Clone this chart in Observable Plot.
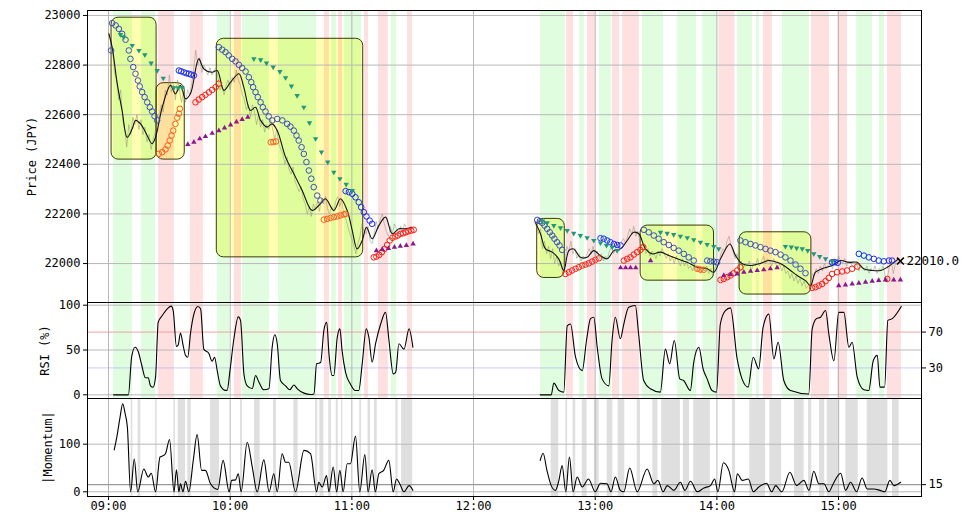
<!DOCTYPE html>
<html><head><meta charset="utf-8">
<script src="https://cdn.jsdelivr.net/npm/d3@7"></script>
<script src="https://cdn.jsdelivr.net/npm/@observablehq/plot@0.6"></script>
<style>
body{margin:0;background:#fff;}
#wrap{position:relative;width:969px;height:516px;background:#fff;}
#wrap svg{position:absolute;left:0;overflow:visible;}
</style></head><body><div id="wrap"></div>
<script>
// ---- times are minutes after 09:00 ----
const hourTicks = [0, 60, 120, 180, 240, 300, 360];
const priceTicks = [22000, 22200, 22400, 22600, 22800, 23000];
const rsiTicks = [0, 50, 100];
const rsiRightTicks = [30, 70];
const momTicks = [0, 100];
const momRightTicks = [15];
const lastPrice = [[390.5, 22010]];
const lastLabel = "22010.0";

const greenBands = [[2.5,11.8],[16.3,23.2],[53.7,59.7],[66.1,79.4],[83.8,102.6],[110,112.4],[116.4,124.8],[139.5,142],
  [213,225.3],[232.2,234.7],[242.1,248],[263.3,273.7],[280.6,290],[293,300.4],[310.2,317.6],[319.5,321],[332.3,345.6],[368.9,376.7],[380.2,382.6]];
const redBands = [[24.7,32.5],[40.4,46.8],[62.1,65.6],[106.5,109],[113.4,115.4],[126.2,128.2],[133.1,138],[147.4,149.9],
  [225.8,229.3],[236.2,240.1],[248.5,252],[253.4,261.8],[301,308.9],[323,327.4],[346.6,355.5],[359.5,364.4],[384.1,391]];
const grayBands = [[11.2,12],[14.6,15.9],[23.2,24],[32.2,33],[34.4,38],[39.1,40.8],[50.3,54.7],[65.1,66.1],[72,74.8],[81.4,82.8],[91.4,93.5],[102.1,103.2],[104.2,106.2],[108.6,110],[112.3,113.3],[114.9,115.5],[123.9,124.8],[128,129.2],[131.2,132.5],[141.7,142.8],[144.5,150],
  [218.3,222],[225.5,226.4],[229.1,230.4],[233.6,236],[239.6,242],[245.9,248.7],[251.3,254.6],[260.7,262.3],[268.4,270.9],[272.8,282],[283.5,286.5],[288.6,296.8],[307.7,309.2],[316.2,324],[326.1,331.9],[338.3,343],[345.2,346.8],[350.6,353.2],[354.4,360.6],[363.6,369.7],[374.1,384.3],[386.6,389.9]];

// [t1, t2, low, high]
const patternBoxes = [[1.5,23.7,22419,22991],[23.7,37.6,22419,22727],[53.4,125.6,22025,22906],
  [211.4,225,21942,22180],[262.4,298.6,21931,22153],[311.2,346.6,21875,22126]];

const priceAM = [[0.2,22926],[1.8,22872],[4.3,22725],[6.7,22617],[9.2,22509],[11.7,22543],[13.3,22577],[15.8,22563],[18.2,22530],[21.5,22483],[23.2,22509],[26.5,22630],[30.6,22718],[33,22684],[35.5,22718],[38,22664],[40.4,22684],[44.5,22825],[47,22785],[51.1,22771],[53.6,22778],[56.9,22698],[60.2,22731],[64.3,22765],[66.7,22711],[70,22617],[72.5,22630],[75,22577],[78.2,22550],[80.7,22563],[83.2,22536],[87.3,22429],[91.4,22362],[95.5,22294],[100.4,22214],[103.7,22234],[107,22261],[111.1,22214],[114.4,22261],[117.7,22214],[120.2,22133],[122.6,22059],[125.1,22093],[127.2,22146],[130,22100],[133.3,22153],[136.6,22187],[139.9,22120],[143.2,22140],[146.4,22140],[149.7,22146]];
const pricePM = [[210.5,22166],[213,22120],[215.5,22059],[218.8,22046],[222,22019],[224.5,21972],[227,22052],[229.4,22059],[232.7,22025],[236,22025],[239.3,22052],[242.6,22032],[245.9,22019],[249.2,22052],[252.5,22059],[255.8,22093],[259,22126],[261.5,22120],[264.8,22059],[268.1,22039],[272.2,22046],[276.3,22032],[280.4,22019],[285.4,22005],[290.3,21985],[295.2,21979],[298.5,21965],[301.8,22019],[306.4,22079],[309.2,22032],[312.5,21999],[316.6,21992],[320.7,21999],[325.6,22012],[329.7,22005],[333,21992],[336.3,21972],[339.6,21952],[343.7,21931],[346.2,21911],[348.6,21965],[351.9,21979],[356.9,21992],[361,22012],[365,22005],[369.2,22005],[372.4,21979],[376.6,21972],[380.7,21972],[384,21985],[387.3,22005],[389.7,22019]];

const rawAM = [[0,22930],[1,22900],[2,22860],[3,22770],[4,22740],[5,22660],[6,22700],[7,22580],[8,22540],[9,22470],[10,22560],[11,22520],[12,22590],[13,22560],[14,22600],[15,22540],[16,22580],[17,22520],[18,22550],[19,22490],[20,22520],[21,22460],[22,22500],[23,22530],[24,22560],[25,22600],[26,22640],[27,22610],[28,22700],[29,22680],[30,22760],[31,22690],[32,22720],[33,22660],[34,22740],[35,22700],[36,22650],[37,22690],[38,22650],[39,22700],[40,22680],[41,22720],[42,22780],[43,22860],[44,22800],[45,22830],[46,22770],[47,22800],[48,22780],[49,22760],[50,22790],[51,22760],[52,22780],[53,22790],[54,22750],[55,22700],[56,22720],[57,22680],[58,22720],[59,22740],[60,22700],[61,22750],[62,22730],[63,22780],[64,22740],[65,22720],[66,22680],[67,22660],[68,22620],[69,22640],[70,22590],[71,22640],[72,22610],[73,22560],[74,22600],[75,22550],[76,22580],[77,22530],[78,22560],[79,22540],[80,22580],[81,22540],[82,22500],[83,22540],[84,22480],[85,22460],[86,22440],[87,22400],[88,22430],[89,22380],[90,22360],[91,22390],[92,22330],[93,22310],[94,22290],[95,22310],[96,22260],[97,22240],[98,22200],[99,22230],[100,22190],[101,22240],[102,22220],[103,22250],[104,22210],[105,22260],[106,22240],[107,22270],[108,22220],[109,22200],[110,22230],[111,22210],[112,22250],[113,22270],[114,22230],[115,22260],[116,22200],[117,22180],[118,22150],[119,22120],[120,22100],[121,22070],[122,22040],[123,22080],[124,22110],[125,22160],[126,22130],[127,22120],[128,22150],[129,22090],[130,22080],[131,22120],[132,22170],[133,22140],[134,22180],[135,22200],[136,22160],[137,22130],[138,22110],[139,22150],[140,22120],[141,22160],[142,22140],[143,22120],[144,22150],[145,22130],[146,22160],[147,22140],[148,22130],[149,22150],[150,22140]];
const rawPM = [[210,22170],[211,22150],[212,22120],[213,22140],[214,22060],[215,22090],[216,22040],[217,22070],[218,22020],[219,22060],[220,22000],[221,22030],[222,21990],[223,22010],[224,21960],[225,21990],[226,22070],[227,22050],[228,22090],[229,22040],[230,22060],[231,22020],[232,22040],[233,22010],[234,22030],[235,22020],[236,22040],[237,22060],[238,22040],[239,22070],[240,22030],[241,22050],[242,22020],[243,22040],[244,22010],[245,22030],[246,22020],[247,22050],[248,22070],[249,22040],[250,22060],[251,22080],[252,22050],[253,22090],[254,22100],[255,22080],[256,22110],[257,22140],[258,22120],[259,22150],[260,22110],[261,22130],[262,22090],[263,22070],[264,22080],[265,22040],[266,22060],[267,22030],[268,22050],[269,22040],[270,22020],[271,22050],[272,22030],[273,22060],[274,22040],[275,22020],[276,22040],[277,22010],[278,22030],[279,22000],[280,22030],[281,22010],[282,21990],[283,22020],[284,21990],[285,22010],[286,21980],[287,21990],[288,21970],[289,22000],[290,21970],[291,21990],[292,21960],[293,21980],[294,21970],[295,21990],[296,21960],[297,21980],[298,21950],[299,21980],[300,22010],[301,22000],[302,22040],[303,22060],[304,22050],[305,22090],[306,22110],[307,22070],[308,22050],[309,22020],[310,22040],[311,21990],[312,22010],[313,21980],[314,22000],[315,21990],[316,22010],[317,21970],[318,22000],[319,21990],[320,22020],[321,21990],[322,22010],[323,22030],[324,22000],[325,22020],[326,22010],[327,21990],[328,22020],[329,22000],[330,21980],[331,22000],[332,21970],[333,21990],[334,21960],[335,21970],[336,21940],[337,21960],[338,21930],[339,21950],[340,21920],[341,21940],[342,21910],[343,21930],[344,21900],[345,21910],[346,21920],[347,21960],[348,21950],[349,21980],[350,21960],[351,21990],[352,21970],[353,22000],[354,21980],[355,21990],[356,22000],[357,21980],[358,22020],[359,22000],[360,22030],[361,22010],[362,22000],[363,22020],[364,21990],[365,22010],[366,22000],[367,21990],[368,21980],[369,22000],[370,21970],[371,21990],[372,21980],[373,21970],[374,21990],[375,21960],[376,21980],[377,21970],[378,21990],[379,21960],[380,21980],[381,21970],[382,21990],[383,21950],[384,21930],[385,21990],[386,22010],[387,21960],[388,22000],[389,22020],[390,22010]];

// stop-and-reverse style circles: above price (short) and below price (long)
const sarShort1 = [[1.3,22859]];
const sarShort2 = [[1.8,22969],[3.5,22960],[5.1,22946],[6.7,22926],[8.4,22902],[10,22859],[10.8,22825],[12.2,22792],[13.3,22765],[14.5,22738],[15.4,22714],[16.6,22691],[17.8,22671],[19.1,22650],[20.4,22630],[21.5,22613],[22.7,22594],[24,22577]];
const sarShort3 = [[34.7,22778],[35.8,22775],[37.1,22771],[38.4,22767],[39.6,22765],[40.7,22762],[42.1,22758]];
const sarShort4 = [[54.4,22872],[56.1,22862],[57.7,22852],[59.3,22839],[61,22825],[62.6,22815],[64.3,22801],[65.9,22788],[67.6,22774],[69.2,22751],[70.4,22731],[71.3,22711],[72.5,22691],[73.6,22671],[75,22650],[76.1,22630],[77.4,22613],[79,22593],[80.7,22577]];
const sarShort5 = [[83.2,22583],[85.7,22577],[88.1,22563],[89.7,22552],[91.4,22536],[92.7,22516],[93.8,22496],[95.2,22469],[96.3,22442],[97.6,22409],[98.8,22375],[100,22342],[101.2,22308],[102.9,22274],[104.5,22254]];
const sarShort6 = [[116.9,22292],[118.5,22288],[120.2,22281],[121.8,22267],[123.4,22247],[124.6,22227],[125.9,22207],[127.2,22190],[128.8,22173],[130,22160]];
const sarShort7 = [[211.4,22176],[212.7,22171],[213.9,22164],[215,22153],[216.3,22140],[217.6,22126],[218.8,22113],[219.9,22100],[221.2,22086],[222.4,22073],[223.7,22055]];
const sarShort8 = [[242.6,22102],[244.2,22100],[245.9,22093],[247.5,22086],[249.2,22079],[250.8,22075],[252.5,22073]];
const sarShort9 = [[264,22136],[266.4,22126],[268.9,22113],[271.3,22100],[273.8,22086],[276.3,22075],[278.7,22063],[281.2,22052],[283.7,22039],[286.1,22025],[288.6,22012]];
const sarShort10 = [[295.2,22012],[296.8,22009],[298.5,22008],[300.1,22005]];
const sarShort11 = [[311.6,22093],[314.1,22086],[316.6,22079],[319,22073],[321.5,22066],[324,22059],[326.4,22052],[328.9,22046],[331.4,22036],[333.8,22025],[336.3,22012],[338.8,21996],[341.2,21979],[343.7,21961]];
const sarShort12 = [[356.8,22005],[358.2,22005],[359.6,22003]];
const sarShort13 = [[370,22039],[372.5,22032],[374.9,22025],[377.4,22019],[379.8,22012],[382.3,22009],[384.8,22012],[386.4,22012]];

const sarLong1 = [[24.8,22442],[26.5,22449],[28.1,22460],[29.2,22476],[30.2,22496],[31.1,22516],[31.9,22536],[33,22563],[33.9,22588],[34.7,22604],[35.2,22624]];
const sarLong2 = [[42.9,22650],[44.5,22661],[46.2,22671],[47.8,22680],[49.5,22690],[51.1,22700],[52.8,22711],[54.4,22725]];
const sarLong3 = [[80,22489],[81.3,22490],[82.6,22492]];
const sarLong4 = [[106.2,22177],[107.8,22180],[109.5,22184],[111.1,22187],[112.8,22190],[114.4,22194],[116,22198],[116.9,22200]];
const sarLong5 = [[130.8,22025],[132.1,22028],[133.5,22035],[134.8,22046],[136.1,22059],[137.4,22075],[138.7,22093],[140,22104],[141.4,22109],[142.7,22113],[144,22120],[145.3,22122],[146.6,22126],[147.9,22130],[149.3,22133],[150.5,22136]];
const sarLong6 = [[225.3,21958],[227,21965],[228.6,21972],[230.3,21979],[231.9,21985],[233.6,21992],[235.2,21996],[236.8,22001],[238.5,22008],[240.1,22015],[241.8,22021]];
const sarLong7 = [[254.1,22012],[255.8,22019],[257.4,22025],[259,22036],[260.7,22046],[262.3,22055],[263.7,22066]];
const sarLong8 = [[290.3,21979],[291.9,21976],[293.5,21975]];
const sarLong9 = [[301.8,21934],[303.4,21938],[305.1,21945],[306.7,21952],[308.3,21961],[310,21972],[311.6,21985]];
const sarLong10 = [[347,21902],[348.6,21905],[350.3,21911],[351.9,21918],[353.6,21929],[355.2,21942],[356.8,21958]];
const sarLong11 = [[359.3,21965],[361.8,21968],[364.2,21972],[366.7,21979],[369.2,21988]];
const sarLong12 = [[384,21938]];

const trendDown = [[5.9,22923],[7.5,22913],[11.7,22879],[15,22859],[17.9,22841],[21,22808],[24,22778],[27,22747],[32.2,22708],[34.4,22708],[36.3,22708],
  [71.7,22825],[75,22821],[77.9,22808],[81.2,22792],[84.5,22774],[87.3,22749],[90.2,22715],[93,22677],[96.3,22630],[99.1,22567],[102.1,22503],[105,22449],[108.1,22409],[111.1,22368],[114.1,22342],[117.2,22319],[120.2,22294],
  [213.9,22171],[216.3,22164],[219.6,22153],[222.9,22144],[226.2,22133],[229.4,22122],[232.7,22113],[236,22104],[239.3,22093],[242.6,22083],[245.6,22073],[248.4,22066],[250.8,22052],
  [272.2,22126],[275.5,22122],[278.7,22117],[282,22110],[285.4,22104],[288.6,22096],[291.9,22086],[295.2,22077],[298.5,22069],[300.9,22059],
  [333.8,22069],[336.7,22066],[339.3,22062],[342.1,22059],[344.8,22052],[347.8,22039],[350.7,22028],[353.6,22019],[356.8,22009]];
const trendUp = [[39.1,22480],[42.1,22489],[45,22503],[47.8,22512],[51.1,22525],[54.4,22536],[57.2,22547],[60.2,22559],[63.1,22571],[65.9,22581],[68.7,22590],
  [132.1,22052],[135,22057],[138,22061],[141,22066],[143.9,22070],[146.9,22073],[150.2,22079],
  [252.5,21983],[255,21983],[257.4,21983],[260,21983],[267.3,22012],
  [303.4,21952],[306.7,21956],[310,21958],[313.3,21965],[316.6,21969],[319.9,21972],[323.1,21975],[326.4,21979],[329.7,21983],
  [360.1,21911],[363.4,21914],[366.7,21918],[370,21921],[373.3,21925],[376.6,21929],[379.8,21932],[383.1,21934],[387.2,21934],[390.5,21934]];

const rsiAM = [[2.5,0],[9.8,0],[11.4,42],[13.1,53],[14.7,48],[16.4,33],[18.2,19],[19.6,19],[20.7,10],[22,8.5],[23.2,20],[24.5,81],[26.5,88.5],[29,96],[30.9,99],[31.9,94],[33.5,54],[34.4,56],[35.5,69],[36.8,55],[38,44],[39.1,42],[40.4,68],[42.1,90],[44.1,98.5],[45.4,96],[47,51],[49.5,46],[51.1,37.5],[52.3,42],[53.6,27],[55.2,10],[57.7,5],[58.5,5],[59.9,27],[61.8,62],[64,87],[65.1,83],[66.8,23],[68.4,10],[70.9,7],[72.5,21.5],[74.2,14],[76.6,5.6],[79.1,6.7],[80.7,53],[82,67],[83.2,57],[84.8,16],[87.3,10],[89.4,5.6],[91.4,11],[93.1,6.7],[96.4,1.9],[99.7,0.4],[101.3,1],[102.6,34.6],[104.6,36],[106.2,72],[107.6,81],[108.7,46],[110.3,21.6],[111.1,21.6],[112.8,64],[114.1,73.6],[115.2,49],[116.9,25],[119.3,12],[121.8,4.8],[123.4,4.8],[125.1,34.6],[127.1,73.6],[128.4,64],[130,36.4],[131.7,57],[134.2,79],[136.6,92],[138.3,60.6],[140.4,23.4],[141.6,25],[143.2,57],[145.7,51],[148.2,73.6],[150.1,53]];
const rsiPM = [[212.9,0],[218.3,0],[219.6,13],[222.1,4.8],[224.5,3],[226.2,77],[227.8,79],[230.3,42],[233.6,27],[235.7,60.6],[237.7,85],[239.3,86.6],[241,53],[243.4,17.8],[246.7,10],[248.3,60.6],[249.9,86.6],[252.4,62.5],[254.1,79],[256.5,97.8],[259.8,99.6],[261.4,68],[263.9,16],[267.2,6.7],[272.1,3],[274.6,51],[276.7,34.6],[279,60.6],[281.7,17.8],[283.6,16],[286.9,4.8],[288.6,36.4],[291.1,53],[293.2,29],[295.2,17.8],[297.6,4.8],[299.8,3],[301.7,79],[304.2,94],[306.7,97],[310,40],[312.4,17.8],[315.4,8.6],[317.9,42],[320.6,29],[322.8,75.5],[325.6,90],[328.1,40],[330.2,58.7],[333,16],[336.3,4.8],[345.3,1],[347,73.6],[349.1,85],[351.1,86.6],[353.6,94],[355.2,68],[357.7,38],[360.1,92],[362.6,92],[365.1,53],[366.7,58.7],[369.2,19.7],[372.5,5.6],[374.9,4.8],[377.1,38],[379.1,44],[380.4,8.6],[382.7,8.6],[384.3,83],[386.5,85],[390.9,98.5]];

const momAM = [[2.8,88],[4.1,115],[5.7,157],[7,185],[8.2,164],[9.3,136],[10.9,0],[12.7,69],[14.4,0],[17.4,48],[19.6,31],[21.1,39],[23.2,0],[25.4,73],[26.5,75],[28.1,80],[30.1,110],[32.3,0],[33.5,46],[34.7,0],[35.5,17],[36.7,0],[38,22],[39.6,0],[41.8,66],[43.7,120],[45.9,45],[47.8,45],[50.3,17],[53.9,5],[56.5,66],[59.5,0],[60.7,24],[62.6,25],[64,38],[65.4,0],[68.4,104],[70.9,52],[73.3,0],[76.6,67],[79.2,0],[81.5,38],[83.2,0],[85.6,80],[87.3,62],[88.9,62],[92.2,0],[96.4,87],[99.6,80],[102.6,0],[103.7,20],[105.4,10],[107.5,34],[108.7,0],[110.8,52],[112.5,0],[114.1,45],[115.7,0],[117.7,59],[119.3,59],[121.8,117],[123.9,0],[126.4,78],[128,0],[130,46],[131.6,0],[133.3,38],[135.7,45],[138.2,66],[140.4,0],[142,27],[143.6,17],[145.7,0],[148.2,13],[150.1,3]];
const momPM = [[212.9,66],[214.3,81],[216.2,45],[218.3,13],[220.4,3],[222.1,24],[223.7,55],[225.5,0],[227.3,73],[229.1,0],[231.1,31],[233.6,10],[236.7,27],[240,0],[242.6,18],[245.8,17],[247.8,0],[249.9,31],[252.4,3],[254.1,0],[257,50],[260.7,0],[265.6,48],[268.9,17],[270.9,24],[273.5,0],[275.5,13],[278.8,3],[282,20],[284.2,3],[287,22],[290.3,0],[293.6,8],[296.9,13],[298.9,27],[300.5,0],[303.2,61],[305.9,45],[308.7,0],[310.1,38],[312.5,24],[315.5,27],[318,0],[320.7,10],[324.5,18],[327,0],[329,13],[332,0],[336,41],[339.3,13],[342.9,24],[345.4,3],[347.8,43],[350.3,17],[352.8,17],[355.2,0],[357.4,17],[361,39],[363.5,3],[365.9,20],[368.9,0],[371.6,29],[374.1,6],[377.4,6],[380.4,3],[382.8,0],[385.3,24],[387.3,13],[390.6,20]];

// ---------------- drawing ----------------
const W = 969, ML = 87, MR = 48;
const FONT = "DejaVu Sans Mono";
const xDomain = [-10.36, 400.9];
const fmtTime = t => { const m = 540 + t; return String(Math.floor(m / 60)).padStart(2, "0") + ":" + String(m % 60).padStart(2, "0"); };
const X = d => d[0], Y = d => d[1];
const GRID = "#b8b8b8";
const style = {fontFamily: FONT, fontSize: "12px", background: "transparent", color: "black", overflow: "visible"};
const sq3 = Math.sqrt(3);
const triDown = {draw(ctx, size) {
  const y = -Math.sqrt(size / (sq3 * 3));
  ctx.moveTo(0, -y * 2); ctx.lineTo(-sq3 * y, y); ctx.lineTo(sq3 * y, y); ctx.closePath();
}};
const bandMarks = () => [
  Plot.rect(greenBands, {x1: d => d[0], x2: d => d[1], fill: "#00ee00", fillOpacity: 0.12}),
  Plot.rect(redBands, {x1: d => d[0], x2: d => d[1], fill: "#ff0000", fillOpacity: 0.12})
];
const yLabel = (text, dx) => Plot.text([text], {frameAnchor: "left", dx, rotate: -90, textAnchor: "middle", lineAnchor: "middle", fontSize: 12, fontFamily: FONT, fill: "black"});

const circle = (data, color) => Plot.dot(data, {x: X, y: Y, r: 2.8, stroke: color, strokeWidth: 1, fill: "none"});
const BLUE = "#3a4cc0", BLUE2 = "#1a2cf0", RED = "#ff1a10", ORANGE = "#ff5a1a";

const p1 = Plot.plot({
  width: W, height: 302, marginLeft: ML, marginRight: MR, marginTop: 10, marginBottom: 0,
  style,
  x: {domain: xDomain, axis: null},
  y: {domain: [21843, 23020], axis: null},
  marks: [
    Plot.rect(patternBoxes, {x1: d => d[0], x2: d => d[1], y1: d => d[2], y2: d => d[3], rx: 7, fill: "#ffff00", fillOpacity: 0.3}),
    ...bandMarks(),
    Plot.gridX(hourTicks, {stroke: GRID, strokeOpacity: 1}),
    Plot.gridY(priceTicks, {stroke: GRID, strokeOpacity: 1}),
    Plot.rect(patternBoxes, {x1: d => d[0], x2: d => d[1], y1: d => d[2], y2: d => d[3], rx: 7, fill: "none", stroke: "#3a3a00", strokeWidth: 1}),
    Plot.line(rawAM, {x: X, y: Y, stroke: "#8a8a70", strokeOpacity: 0.6, strokeWidth: 0.8}),
    Plot.line(rawPM, {x: X, y: Y, stroke: "#8a8a70", strokeOpacity: 0.6, strokeWidth: 0.8}),
    Plot.line(priceAM, {x: X, y: Y, stroke: "#111", strokeWidth: 1.1, curve: "catmull-rom"}),
    Plot.line(pricePM, {x: X, y: Y, stroke: "#111", strokeWidth: 1.1, curve: "catmull-rom"}),
    circle(sarShort1, BLUE), circle(sarShort2, BLUE), circle(sarShort3, BLUE2), circle(sarShort4, BLUE),
    circle(sarShort5, BLUE), circle(sarShort6, BLUE2), circle(sarShort7, BLUE), circle(sarShort8, BLUE2),
    circle(sarShort9, BLUE), circle(sarShort10, BLUE), circle(sarShort11, BLUE), circle(sarShort12, BLUE2), circle(sarShort13, BLUE2),
    circle(sarLong1, ORANGE), circle(sarLong2, RED), circle(sarLong3, ORANGE), circle(sarLong4, ORANGE),
    circle(sarLong5, RED), circle(sarLong6, RED), circle(sarLong7, RED), circle(sarLong8, ORANGE),
    circle(sarLong9, RED), circle(sarLong10, RED), circle(sarLong11, RED), circle(sarLong12, RED),
    Plot.dot(trendDown, {x: X, y: Y, symbol: triDown, r: 2, fill: "#23977a", stroke: "none"}),
    Plot.dot(trendUp, {x: X, y: Y, symbol: "triangle", r: 2, fill: "#8a1a8a", stroke: "none"}),
    Plot.dot(lastPrice, {x: X, y: Y, symbol: "times", r: 3.2, stroke: "black", strokeWidth: 1.5}),
    Plot.text(lastPrice, {x: X, y: Y, text: () => lastLabel, dx: 6, textAnchor: "start", fontSize: 12.5, fontFamily: FONT, fill: "black"}),
    Plot.axisY(priceTicks, {anchor: "left", tickSize: 4, tickPadding: 3, label: null, tickFormat: d3.format("d")}),
    yLabel("Price (JPY)", -55),
    Plot.frame({stroke: "black"})
  ]
});

const p2 = Plot.plot({
  width: W, height: 96, marginLeft: ML, marginRight: MR, marginTop: 0, marginBottom: 0,
  style,
  x: {domain: xDomain, axis: null},
  y: {domain: [-4.1, 103], axis: null},
  marks: [
    ...bandMarks(),
    Plot.gridX(hourTicks, {stroke: GRID, strokeOpacity: 1}),
    Plot.gridY(rsiTicks, {stroke: GRID, strokeOpacity: 1}),
    Plot.ruleY([70], {stroke: "#f08080", strokeOpacity: 0.7}),
    Plot.ruleY([30], {stroke: "#9999ff", strokeOpacity: 0.5}),
    Plot.line(rsiAM, {x: X, y: Y, stroke: "black", strokeWidth: 1.1, curve: "monotone-x"}),
    Plot.line(rsiPM, {x: X, y: Y, stroke: "black", strokeWidth: 1.1, curve: "monotone-x"}),
    Plot.axisY(rsiTicks, {anchor: "left", tickSize: 4, tickPadding: 3, label: null, tickFormat: d3.format("d")}),
    Plot.axisY(rsiRightTicks, {anchor: "right", tickSize: 4, tickPadding: 3, label: null, tickFormat: d3.format("d")}),
    yLabel("RSI (%)", -42),
    Plot.frame({stroke: "black"})
  ]
});

const p3 = Plot.plot({
  width: W, height: 118, marginLeft: ML, marginRight: MR, marginTop: 0, marginBottom: 20,
  style,
  x: {domain: xDomain},
  y: {domain: [-9.9, 196], axis: null},
  marks: [
    Plot.rect(grayBands, {x1: d => d[0], x2: d => d[1], fill: "#808080", fillOpacity: 0.25}),
    Plot.gridX(hourTicks, {stroke: GRID, strokeOpacity: 1}),
    Plot.gridY(momTicks, {stroke: GRID, strokeOpacity: 1}),
    Plot.ruleY(momRightTicks, {stroke: "#999", strokeWidth: 1.2}),
    Plot.line(momAM, {x: X, y: Y, stroke: "black", strokeWidth: 1.1, curve: "monotone-x"}),
    Plot.line(momPM, {x: X, y: Y, stroke: "black", strokeWidth: 1.1, curve: "monotone-x"}),
    Plot.axisY(momTicks, {anchor: "left", tickSize: 4, tickPadding: 3, label: null, tickFormat: d3.format("d")}),
    Plot.axisY(momRightTicks, {anchor: "right", tickSize: 4, tickPadding: 3, label: null, tickFormat: d3.format("d")}),
    Plot.axisX(hourTicks, {anchor: "bottom", tickSize: 4, tickPadding: 1, label: null, tickFormat: fmtTime}),
    yLabel("|Momentum|", -39),
    Plot.frame({stroke: "black"})
  ]
});

const wrap = document.getElementById("wrap");
[[p1, 0], [p2, 302], [p3, 398]].forEach(([svg, top]) => { svg.style.top = top + "px"; wrap.appendChild(svg); });
</script></body></html>
